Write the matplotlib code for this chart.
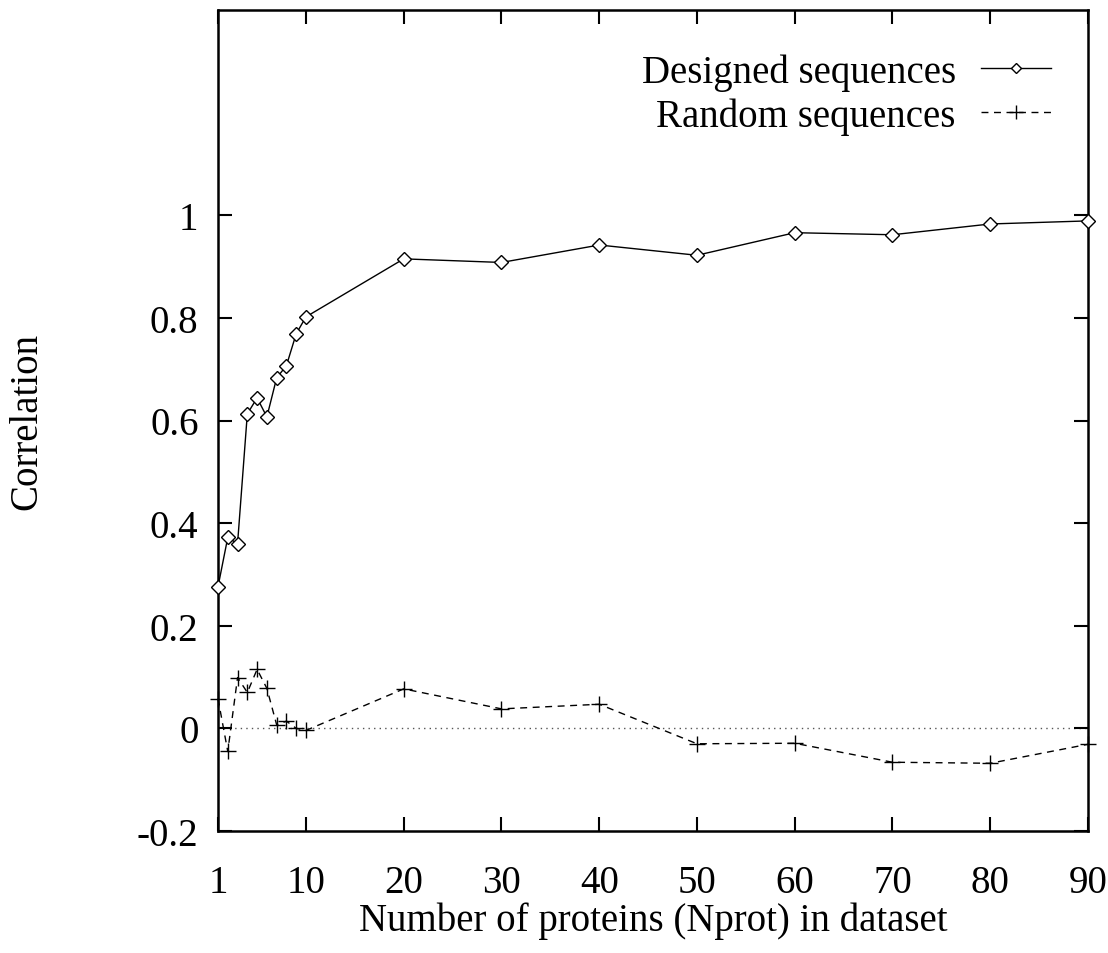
import matplotlib
matplotlib.use("Agg")
import matplotlib.pyplot as plt

n_prot = [1, 2, 3, 4, 5, 6, 7, 8, 9, 10, 20, 30, 40, 50, 60, 70, 80, 90]
designed = [0.276, 0.372, 0.360, 0.613, 0.644, 0.607, 0.683, 0.707, 0.769, 0.802,
            0.915, 0.908, 0.942, 0.922, 0.966, 0.962, 0.983, 0.989]
random_seq = [0.058, -0.045, 0.099, 0.070, 0.115, 0.078, 0.007, 0.014, 0.000, -0.004,
              0.077, 0.038, 0.047, -0.030, -0.029, -0.066, -0.068, -0.031]
x_ticks = [1, 10, 20, 30, 40, 50, 60, 70, 80, 90]
y_ticks = [-0.2, 0, 0.2, 0.4, 0.6, 0.8, 1]
y_tick_labels = ["-0.2", "0", "0.2", "0.4", "0.6", "0.8", "1"]

plt.rcParams['font.family'] = ['Liberation Serif', 'DejaVu Serif']
FS = 28

fig = plt.figure(figsize=(11.08, 9.54), dpi=100)
ax = fig.add_axes([218/1108, 1 - 832/954, (1088-218)/1108, (832-11)/954])

ax.axhline(0, color='#555555', lw=1.0, ls=(0, (1, 3)), zorder=1)
ax.plot(n_prot, designed, color='black', lw=1.0, marker='D', markersize=7,
        markerfacecolor='white', markeredgecolor='black', markeredgewidth=1.0,
        label='Designed sequences', zorder=3, clip_on=False)
ax.plot(n_prot, random_seq, color='black', lw=1.0, ls=(0, (5, 4)), marker='+',
        markersize=12, markeredgewidth=1.0, label='Random sequences', zorder=3,
        clip_on=False)

ax.set_xlim(1, 90)
ax.set_ylim(-0.2, 1.4)
ax.set_xticks(x_ticks)
ax.set_xticklabels([str(v) for v in x_ticks], fontsize=FS)
ax.set_yticks(y_ticks)
ax.set_yticklabels(y_tick_labels, fontsize=FS)
ax.tick_params(direction='in', length=10, width=1.5, top=True, right=True, pad=14)
ax.tick_params(axis='x', pad=24)
for s in ax.spines.values():
    s.set_linewidth(1.8)

ax.set_xlabel('Number of proteins (Nprot) in dataset', fontsize=FS, labelpad=0)
fig.text(27/1108, 1 - 421/954, 'Correlation', rotation=90, fontsize=FS,
         ha='center', va='center')

leg = ax.legend(loc='upper right', bbox_to_anchor=(1051/1108, 1 - 54/954),
                bbox_transform=fig.transFigure, frameon=False, fontsize=FS,
                markerfirst=False, numpoints=1, handlelength=1.8,
                handletextpad=0.65, labelspacing=0.18, borderpad=0,
                borderaxespad=0)
for t in leg.get_texts():
    t.set_ha('right')
for h in leg.legend_handles:
    h.set_markersize(h.get_markersize() * 0.8)

fig.savefig('out.png', dpi=100)
